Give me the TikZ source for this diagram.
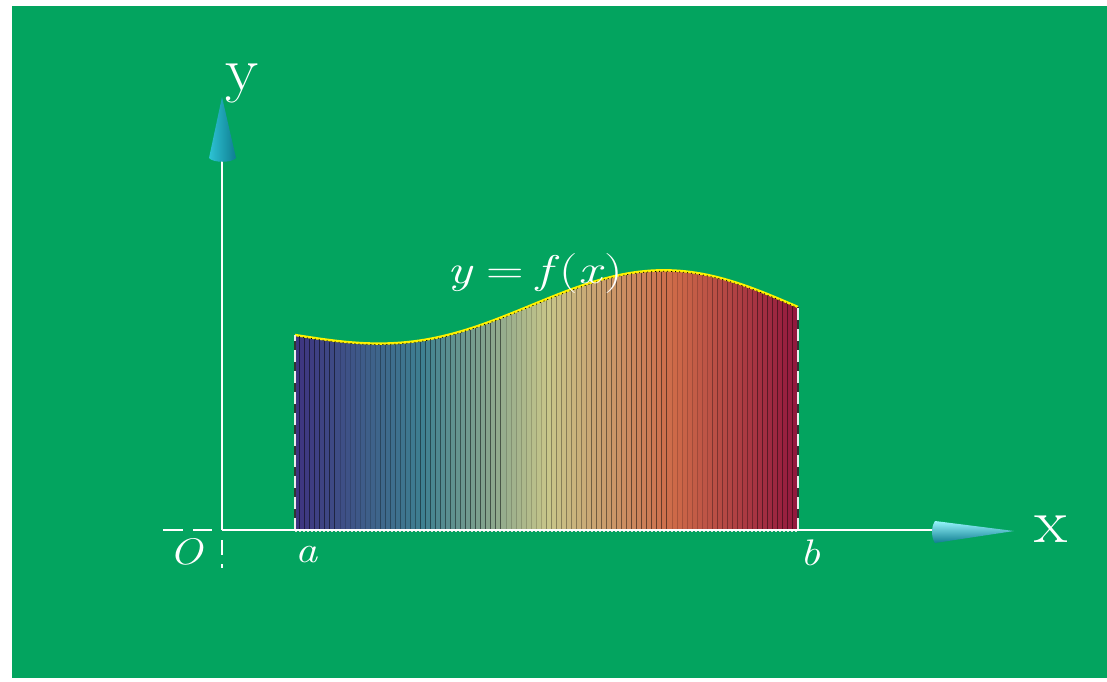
\documentclass[tikz,border=0pt]{standalone}
\usepackage{fontspec}
\usepackage{xcolor}
\usepackage{tikz}
\usetikzlibrary{calc}

\definecolor{bggreen}{RGB}{3,164,95}
\definecolor{cA}{RGB}{62,52,128}
\definecolor{cB}{RGB}{62,128,145}
\definecolor{cC}{RGB}{200,198,138}
\definecolor{cD}{RGB}{205,105,72}
\definecolor{cE}{RGB}{145,22,62}
\definecolor{conelight}{RGB}{150,245,252}
\definecolor{conemid}{RGB}{45,195,212}
\definecolor{conedark}{RGB}{15,125,145}

\begin{document}
\begin{tikzpicture}[
    x=1pt, y=-1pt,
    declare function={tt(\x)=(\x-295)/503;
      hgt(\x)=195+28*tt(\x)+22*sin(180*tt(\x))-28*sin(360*tt(\x));},
    axis/.style={white, line width=2.4pt},
    negaxis/.style={white, line width=2.4pt, dash pattern=on 20pt off 10pt},
    edge/.style={white!85!gray, line width=2.4pt, dash pattern=on 12pt off 9pt},
    lbl/.style={text=white, inner sep=0pt, anchor=base},
    big/.style={lbl, font=\fontsize{62}{62}\selectfont, xscale=1.1},
    small/.style={lbl, font=\fontsize{37}{37}\selectfont\itshape, xscale=1.2},
  ]
    \useasboundingbox (0,0) rectangle (1107,681);
    \fill[white] (0,0) rectangle (1107,681);
    \fill[bggreen] (12,6) rectangle (1107,678);

    % --- points ---
    \coordinate (O)    at (222,530);
    \coordinate (xend) at (935,530);
    \coordinate (ytop) at (222,160);
    \coordinate (a)    at (295,530);
    \coordinate (b)    at (798,530);
    \coordinate (fa)   at (295,{530-hgt(295)});
    \coordinate (fb)   at (798,{530-hgt(798)});

    % --- coloured strips under the curve ---
    \foreach \ca/\cb [count=\s from 0] in {cA/cB,cB/cC,cC/cD,cD/cE}{
      \foreach \j in {0,...,24}{
        \pgfmathtruncatemacro\p{4*\j}
        \pgfmathsetmacro\xl{295+5.03*(25*\s+\j)}
        \pgfmathsetmacro\xr{\xl+5.03}
        \fill[\cb!\p!\ca] (\xl,530) -- (\xl,{530-hgt(\xl)})
          -- (\xr,{530-hgt(\xr)}) -- (\xr,530) -- cycle;
        \draw[\cb!\p!\ca!50!black, line width=1.5pt]
          (\xr,530) -- (\xr,{530-hgt(\xr)});
      }
    }

    % --- curve ---
    \draw[yellow, line width=2.4pt] plot[domain=295:798, samples=90] (\x,{530-hgt(\x)});
    \draw[black, line width=0.8pt, dash pattern=on 1pt off 3pt]
      plot[domain=295:798, samples=90] (\x,{531-hgt(\x)});

    % --- edges at a and b ---
    \draw[black!80, line width=2.4pt] (a) -- (fa);
    \draw[edge] (a) -- (fa);
    \draw[black!80, line width=2.4pt] (b) -- (fb);
    \draw[edge] (b) -- (fb);

    % --- axes ---
    \draw[axis] (O) -- (xend);
    \draw[axis] (O) -- (ytop);
    \draw[negaxis] (163,530) -- (212,530);
    \draw[white, line width=2.4pt, dash pattern=on 15pt off 9pt] (222,540) -- (222,568);
    \draw[white!75!gray, line width=1pt, dash pattern=on 2pt off 2pt]
      ([yshift=-1.8pt]a) -- ([yshift=-1.8pt]b);

    % --- arrow cones ---
    \shade[left color=conemid, middle color=conelight, right color=conedark]
      (209,158) -- (222,97) -- (236,158) .. controls (232,163) and (213,163) .. (209,158) -- cycle;
    \shade[top color=conelight, middle color=conemid, bottom color=conedark]
      (935,521) -- (1014,531) -- (935,543) .. controls (931,537) and (931,527) .. (935,521) -- cycle;

    % --- labels ---
    \node[big] (ylab) at (242,90) {y};
    \node[big] (xlab) at (1051,542) {x};
    \node[small] (olab) at (186,564) {O};
    \node[small] (alab) at (307,562) {a};
    \node[small] (blab) at (810,565) {b};
    \node[lbl, font=\fontsize{40}{40}\selectfont, xscale=1.3] (flab) at (535,283)
      {\textit{y}\hspace{0.25em}=\hspace{0.25em}\textit{f}(\textit{x}\/)};
  \end{tikzpicture}
\end{document}
